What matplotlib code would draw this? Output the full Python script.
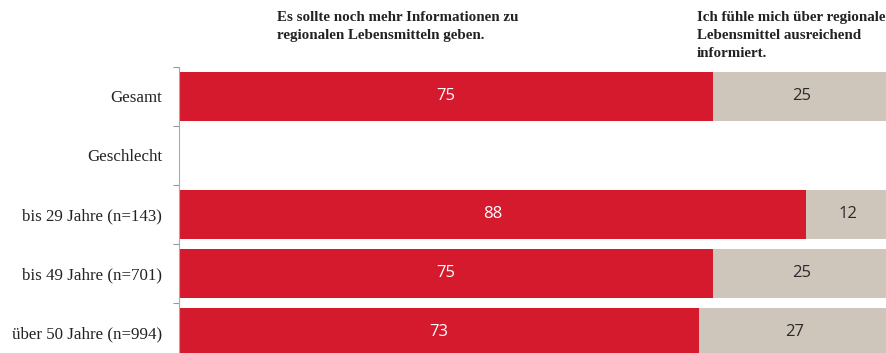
import matplotlib.pyplot as plt

# Daten
gruppen = ['Gesamt', 'Geschlecht', 'bis 29 Jahre (n=143)', 'bis 49 Jahre (n=701)', 'über 50 Jahre (n=994)']
mehr_info = [75, None, 88, 75, 73]
informiert = [25, None, 12, 25, 27]

rot = '#D61A2E'
beige = '#CEC5BB'

fig = plt.figure(figsize=(8.86, 3.53), dpi=100)
ax = fig.add_axes([179 / 886, 0, 1 - 179 / 886, (353 - 67) / 353])

for i, (a, b) in enumerate(zip(mehr_info, informiert)):
    if a is None:
        continue
    ax.barh(i, a, height=0.83, color=rot)
    ax.barh(i, b, left=a, height=0.83, color=beige)
    ax.text(a / 2, i, str(a), ha='center', va='center', color='white',
            fontsize=12, family='Open Sans')
    ax.text(a + b / 2, i, str(b), ha='center', va='center', color='#2a2a2a',
            fontsize=12, family='Open Sans')

ax.set_xlim(0, 99.3)
ax.set_ylim(4.35, -0.5)
ax.set_yticks(range(len(gruppen)))
ax.set_yticklabels(gruppen, family='Liberation Serif', fontsize=12.2, color='#222222')
ax.set_yticks([i - 0.5 for i in range(len(gruppen))], minor=True)
ax.tick_params(axis='y', which='major', length=0, pad=12)
ax.tick_params(axis='y', which='minor', length=4, color='#999999', width=0.8)
ax.set_xticks([])
for s in ['top', 'right', 'bottom']:
    ax.spines[s].set_visible(False)
ax.spines['left'].set_color('#aaaaaa')
ax.spines['left'].set_linewidth(0.8)

fig.text(277 / 886, 1 - 11 / 353, 'Es sollte noch mehr Informationen zu\nregionalen Lebensmitteln geben.',
         ha='left', va='top', fontsize=10.8, weight='bold', family='Liberation Serif',
         linespacing=1.5, color='#222222')
fig.text(697 / 886, 1 - 11 / 353, 'Ich fühle mich über regionale\nLebensmittel ausreichend\ninformiert.',
         ha='left', va='top', fontsize=10.8, weight='bold', family='Liberation Serif',
         linespacing=1.5, color='#222222')

fig.savefig('out.png', dpi=100)
